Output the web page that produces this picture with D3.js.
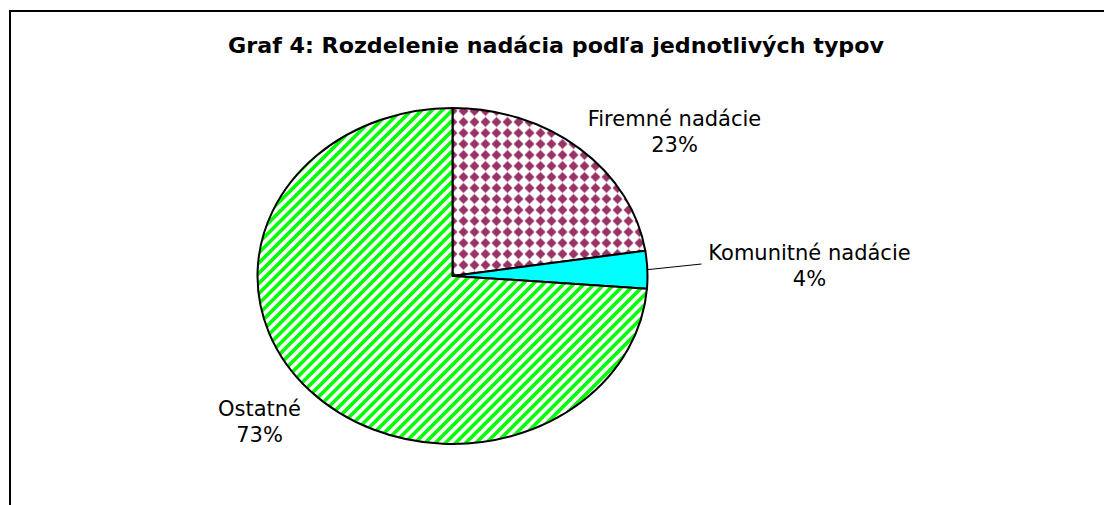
<!DOCTYPE html>
<html>
<head>
<meta charset="utf-8">
<script src="https://cdn.jsdelivr.net/npm/d3@7"></script>
<style>
  body { margin: 0; background: #fff; }
  svg { display: block; }
  text { font-family: "DejaVu Sans", Verdana, sans-serif; fill: #000; }
</style>
</head>
<body>
<div id="chartdiv"></div>
<script>
// slice data (share of foundations by type)
var categories = ["Firemné nadácie", "Komunitné nadácie", "Ostatné"];
var values = [22.6, 3.6, 73.8];
var pctLabels = ["23%", "4%", "73%"];
var fills = ["url(#checker)", "#00ffff", "url(#stripes)"];

var width = 1104, height = 505;
var cx = 452.5, cy = 276, rx = 195, ry = 168;

// where each label sits relative to the pie centre (layout only)
var labelPos = [[222, -150], [357, -16], [-193, 140]];

var svg = d3.select("#chartdiv").append("svg")
  .attr("width", width)
  .attr("height", height);

var defs = svg.append("defs");

// green diagonal hatch
var st = defs.append("pattern")
  .attr("id", "stripes")
  .attr("patternUnits", "userSpaceOnUse")
  .attr("width", 7.2).attr("height", 7.2)
  .attr("patternTransform", "rotate(45)");
st.append("rect").attr("width", 7.2).attr("height", 7.2).attr("fill", "#fff");
st.append("rect").attr("width", 3.6).attr("height", 7.2).attr("fill", "#00ff00");

// maroon diamonds
var ch = defs.append("pattern")
  .attr("id", "checker")
  .attr("patternUnits", "userSpaceOnUse")
  .attr("width", 11).attr("height", 11)
  .attr("x", cx - 5.5).attr("y", cy - 5.5);
ch.append("rect").attr("width", 11).attr("height", 11).attr("fill", "#fff");
ch.append("path").attr("d", "M5.5,0.5 L10.5,5.5 L5.5,10.5 L0.5,5.5 Z").attr("fill", "#993366");

// frame (open to the right and bottom, like the cropped sheet)
svg.append("path")
  .attr("d", "M10," + height + " L10,11 L" + width + ",11")
  .attr("fill", "none")
  .attr("stroke", "#000")
  .attr("stroke-width", 2);

svg.append("text")
  .attr("x", 556).attr("y", 53)
  .attr("text-anchor", "middle")
  .attr("textLength", 656)
  .attr("lengthAdjust", "spacingAndGlyphs")
  .style("font-weight", "bold")
  .style("font-size", "22px")
  .text("Graf 4: Rozdelenie nadácia podľa jednotlivých typov");

var pie = d3.pie().sort(null).value(d => d)(values);

// elliptical point for a pie angle (clockwise from 12 o'clock)
function pt(a) { return [cx + rx * Math.sin(a), cy - ry * Math.cos(a)]; }

function slicePath(d) {
  var p0 = pt(d.startAngle), p1 = pt(d.endAngle);
  var large = (d.endAngle - d.startAngle) > Math.PI ? 1 : 0;
  return "M" + cx + "," + cy + " L" + p0[0] + "," + p0[1] +
    " A" + rx + "," + ry + " 0 " + large + " 1 " + p1[0] + "," + p1[1] + " Z";
}

svg.append("g").selectAll("path")
  .data(pie)
  .enter().append("path")
    .attr("d", slicePath)
    .attr("fill", (d, i) => fills[i])
    .attr("stroke", "#000")
    .attr("stroke-width", 2)
    .attr("stroke-linejoin", "round");

// leader line for the small slice
var small = pie[1];
var mid = pt((small.startAngle + small.endAngle) / 2);
svg.append("line")
  .attr("x1", mid[0]).attr("y1", mid[1])
  .attr("x2", cx + labelPos[1][0] - 108).attr("y2", cy + labelPos[1][1] + 4)
  .attr("stroke", "#000")
  .attr("stroke-width", 1);

var labels = svg.append("g").selectAll("text")
  .data(pie)
  .enter().append("text")
    .attr("text-anchor", "middle")
    .style("font-size", "21px")
    .attr("transform", (d, i) => "translate(" + (cx + labelPos[i][0]) + "," + (cy + labelPos[i][1]) + ")");

labels.append("tspan").attr("x", 0).attr("y", 0).text((d, i) => categories[i]);
labels.append("tspan").attr("x", 0).attr("y", 25.5).text((d, i) => pctLabels[i]);
</script>
</body>
</html>
